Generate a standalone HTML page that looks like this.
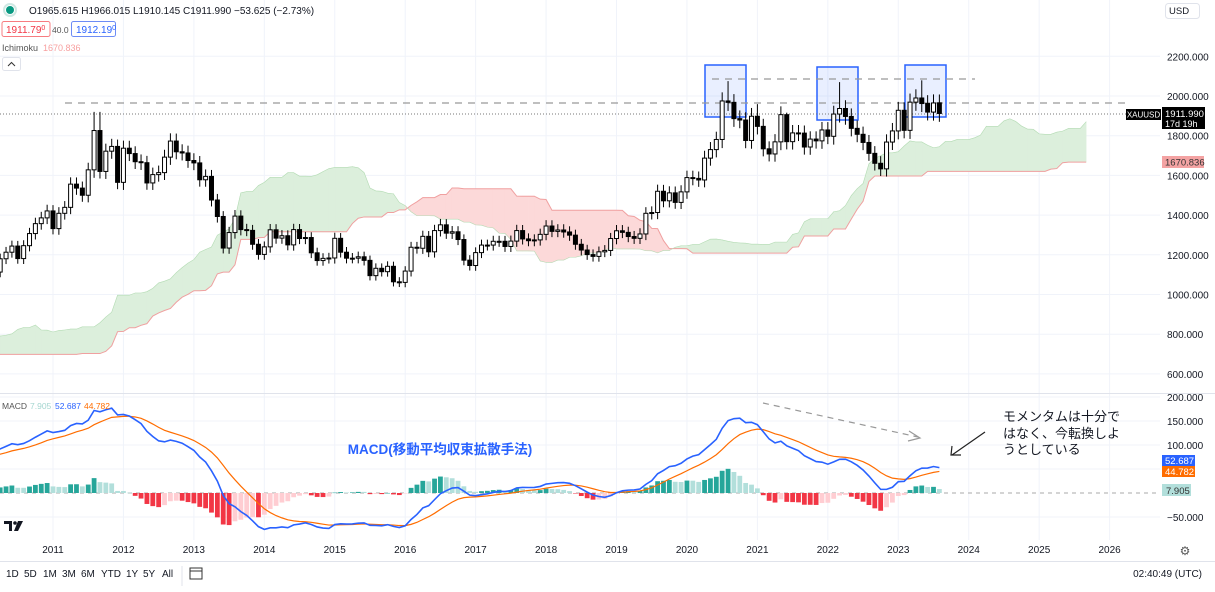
<!DOCTYPE html><html><head><meta charset="utf-8"><style>
html,body{margin:0;padding:0;background:#fff;width:1215px;height:592px;overflow:hidden;font-family:"Liberation Sans","Noto Sans CJK JP",sans-serif;}
svg{display:block}
</style></head><body>
<svg id="s" width="1215" height="592" xmlns="http://www.w3.org/2000/svg" font-family="Liberation Sans, Noto Sans CJK JP, sans-serif"></svg>
<script>
var C=[422,434,428,435,414,436,429,433,473,470,495,513,
568,556,582,654,643,613,633,624,599,604,646,632,
651,665,663,679,659,650,666,672,743,789,783,834,
923,971,916,865,887,930,913,833,871,730,814,869,
928,942,916,883,979,927,954,955,1001,1040,1180,1096,
1081,1116,1113,1180,1213,1244,1181,1246,1307,1357,1386,1421,
1332,1409,1439,1556,1536,1500,1628,1826,1620,1722,1746,1565,
1737,1710,1669,1664,1562,1604,1614,1692,1773,1719,1713,1675,
1663,1578,1595,1476,1393,1234,1312,1395,1327,1323,1253,1202,
1240,1326,1284,1296,1250,1327,1282,1287,1210,1171,1182,1184,
1283,1213,1183,1183,1190,1172,1095,1132,1115,1142,1064,1061,
1118,1238,1233,1293,1215,1322,1351,1309,1316,1277,1173,1146,
1211,1249,1249,1268,1268,1242,1269,1322,1280,1271,1275,1303,
1345,1318,1325,1315,1299,1253,1224,1201,1192,1215,1222,1282,
1321,1313,1292,1283,1305,1409,1413,1520,1472,1512,1464,1517,
1589,1585,1577,1687,1730,1781,1975,1968,1886,1879,1776,1898,
1847,1734,1708,1769,1906,1770,1814,1813,1743,1783,1774,1829,
1797,1909,1937,1897,1837,1807,1766,1711,1661,1633,1768,1824,
1928,1827,1969,1990,1962,1919,1965,1912];
var i2011=72;
function X(i){return 53+(i-i2011)*5.87;}
function PY(p){return 96+(2000-p)*0.1985;}
function MY(v){return 493-v*0.48;}
var n=C.length,O=[],H=[],L=[];
for(var i=0;i<n;i++){var o=i?C[i-1]:C[i];if(i==n-1)o=1965.6;O.push(o);
H.push(Math.max(o,C[i])+C[i]*0.022);L.push(Math.min(o,C[i])-C[i]*0.022);}
function setH(y,m,v){H[(y-2011)*12+m-1+i2011]=v;}
setH(2011,8,1920);setH(2011,9,1920);setH(2020,8,2075);setH(2022,3,2070);setH(2023,5,2079);setH(2021,1,1959);setH(2021,6,1916);
var s='';
for(var y=2011;y<=2026;y++){var x=X((y-2011)*12+i2011);s+='<line x1="'+x+'" y1="0" x2="'+x+'" y2="540" stroke="#f0f3fa"/>';}
[2200,2000,1800,1600,1400,1200,1000,800,600].forEach(function(p){s+='<line x1="0" x2="1160" y1="'+PY(p)+'" y2="'+PY(p)+'" stroke="#f0f3fa"/>';});
[200,150,100,50,-50].forEach(function(v){s+='<line x1="0" x2="1160" y1="'+MY(v)+'" y2="'+MY(v)+'" stroke="#f0f3fa"/>';});
function hh(a,b){var m=-1e9;for(var k=Math.max(0,a);k<=b;k++)m=Math.max(m,H[k]);return m;}
function ll(a,b){var m=1e9;for(var k=Math.max(0,a);k<=b;k++)m=Math.min(m,L[k]);return m;}
var SA={},SB={};
for(var i=0;i<n;i++){var t=(hh(i-8,i)+ll(i-8,i))/2,k=(hh(i-25,i)+ll(i-25,i))/2;SA[i+25]=(t+k)/2;SB[i+25]=(hh(i-51,i)+ll(i-51,i))/2;}
var st=i2011-10,en=n-1+25;
for(var i=st;i<en;i++){var a1=SA[i],a2=SA[i+1],b1=SB[i],b2=SB[i+1];
var col=(a1+a2)>=(b1+b2)?'#dcefdc':'#fcd9d9';
s+='<polygon points="'+X(i)+','+PY(a1)+' '+X(i+1)+','+PY(a2)+' '+X(i+1)+','+PY(b2)+' '+X(i)+','+PY(b1)+'" fill="'+col+'" stroke="'+col+'" stroke-width="0.6"/>';}
var pb='';for(var i=st;i<=en;i++)pb+=(i==st?'M':'L')+X(i)+','+PY(SB[i]);
s+='<path d="'+pb+'" fill="none" stroke="#f0a0a0" stroke-width="1"/>';
var pa='';for(var i=st;i<=en;i++)pa+=(i==st?'M':'L')+X(i)+','+PY(SA[i]);
s+='<path d="'+pa+'" fill="none" stroke="#b5dcb5" stroke-width="0.6"/>';
[[705,65],[817,67],[905,65]].forEach(function(b){s+='<rect x="'+b[0]+'" y="'+b[1]+'" width="41" height="'+(b[0]==817?53:52)+'" fill="rgba(41,98,255,0.1)" stroke="#2962ff" stroke-width="1.5"/>';});
s+='<line x1="65" y1="103" x2="1128" y2="103" stroke="#999" stroke-dasharray="7,6" stroke-width="1.3"/>';
s+='<line x1="712" y1="79" x2="975" y2="79" stroke="#999" stroke-dasharray="7,6" stroke-width="1.3"/>';
s+='<line x1="0" y1="114" x2="1127" y2="114" stroke="#777" stroke-dasharray="1,2"/>';
for(var i=i2011-9;i<n;i++){var x=X(i),o=O[i],c=C[i],up=c>=o;
s+='<line x1="'+x+'" x2="'+x+'" y1="'+PY(H[i])+'" y2="'+PY(L[i])+'" stroke="#000"/>';
var y1=PY(Math.max(o,c)),h=Math.max(1,PY(Math.min(o,c))-y1);
s+='<rect x="'+(x-2)+'" y="'+y1+'" width="4" height="'+h+'" fill="'+(up?'#fff':'#000')+'" stroke="#000" stroke-width="1"/>';}
function ema(arr,p){var k=2/(p+1),r=[],e=arr[0];for(var i=0;i<arr.length;i++){e=i?arr[i]*k+e*(1-k):arr[i];r.push(e);}return r;}
var e12=ema(C,12),e26=ema(C,26),M=[];for(var i=0;i<n;i++)M.push(e12[i]-e26[i]);
var S=ema(M,9);
s+='<line x1="0" y1="493" x2="1160" y2="493" stroke="#aaa" stroke-dasharray="4,4"/>';
for(var i=i2011-9;i<n;i++){var h=(M[i]-S[i])*1.05,hp=(M[i-1]-S[i-1])*1.05,col;
if(h>=0)col=h>=hp?'#26a69a':'#b2dfdb';else col=h<hp?'#f23645':'#ffcdd2';
var y0=493,y1=MY(h);s+='<rect x="'+(X(i)-2.4)+'" y="'+Math.min(y0,y1)+'" width="4.8" height="'+Math.max(0.5,Math.abs(y1-y0))+'" fill="'+col+'"/>';}
var pm='',ps='';for(var i=i2011-10;i<n;i++){pm+=(pm?'L':'M')+X(i)+','+MY(M[i]);ps+=(ps?'L':'M')+X(i)+','+MY(S[i]);}
s+='<path d="'+ps+'" fill="none" stroke="#ff6d00" stroke-width="1.2"/>';
s+='<path d="'+pm+'" fill="none" stroke="#2962ff" stroke-width="1.6"/>';
s+='<line x1="0" x2="1215" y1="393.5" y2="393.5" stroke="#e0e3eb"/>';
s+='<line x1="0" x2="1215" y1="561.5" y2="561.5" stroke="#e0e3eb"/>';
function T(x,y,t,o){o=o||{};return '<text x="'+x+'" y="'+y+'" font-size="'+(o.fs||11)+'" fill="'+(o.c||'#131722')+'"'+(o.a?' text-anchor="'+o.a+'"':'')+(o.w?' font-weight="'+o.w+'"':'')+'>'+t+'</text>';}
[2200,2000,1800,1600,1400,1200,1000,800,600].forEach(function(p){s+=T(1167,PY(p)+4,p+'.000',{fs:10});});
[[200,'200.000'],[150,'150.000'],[100,'100.000'],[-50,'−50.000']].forEach(function(v){s+=T(1167,MY(v[0])+4,v[1],{fs:10});});
for(var y=2011;y<=2026;y++)s+=T(X((y-2011)*12+i2011),553,y,{fs:10,a:'middle'});
s+='<rect x="1126" y="109" width="35" height="11" fill="#000"/>'+T(1143.5,117.5,'XAUUSD',{fs:8,c:'#fff',a:'middle'});
s+='<rect x="1162" y="107" width="43" height="22" fill="#000"/>'+T(1165,117,'1911.990',{fs:9.5,c:'#fff'})+T(1165,127,'17d 19h',{fs:9,c:'#fff'});
s+='<rect x="1162" y="156" width="42" height="12" fill="#f4a3a3"/>'+T(1165,165.5,'1670.836',{fs:9.5,c:'#333'});
s+='<rect x="1162" y="455" width="33" height="11" fill="#2962ff"/>'+T(1165,464,'52.687',{fs:9.5,c:'#fff'});
s+='<rect x="1162" y="466" width="33" height="11" fill="#ff6d00"/>'+T(1165,475,'44.782',{fs:9.5,c:'#fff'});
s+='<rect x="1162" y="484" width="29" height="12" fill="#b2dfdb"/>'+T(1166,494,'7.905',{fs:9.5,c:'#333'});
s+='<rect x="1165.5" y="3.5" width="34" height="15" rx="3" fill="#fff" stroke="#e0e3eb"/>'+T(1169,14,'USD',{fs:9.5});
s+='<circle cx="10" cy="10" r="4" fill="#089981"/><circle cx="10" cy="10" r="6" fill="none" stroke="#cfe8e3" stroke-width="2"/>';
s+=T(29,14,'O1965.615  H1966.015  L1910.145  C1911.990  −53.625 (−2.73%)',{fs:10});
s+='<rect x="2" y="21.5" width="48" height="15" rx="2" fill="#fff" stroke="#f77c80"/>'+T(6,33,'1911.79<tspan font-size="7" dy="-3">0</tspan>',{fs:10,c:'#f23645'});
s+=T(52,33,'40.0',{fs:8.5,c:'#555'});
s+='<rect x="71.5" y="21.5" width="44" height="15" rx="2" fill="#fff" stroke="#6d8cf5"/>'+T(76,33,'1912.19<tspan font-size="7" dy="-3">0</tspan>',{fs:10,c:'#2962ff'});
s+=T(2,51,'Ichimoku',{fs:9,c:'#555'})+T(43,51,'1670.836',{fs:9,c:'#f7a0a0'});
s+='<rect x="2.5" y="57.5" width="18" height="13" rx="2" fill="#fff" stroke="#e0e3eb"/><path d="M8 66 L11.5 62.5 L15 66" fill="none" stroke="#333"/>';
s+=T(2,409,'MACD',{fs:8.5,c:'#555'})+T(30,409,'7.905',{fs:8.5,c:'#a5d6d0'})+T(55,409,'52.687',{fs:8.5,c:'#2962ff'})+T(84,409,'44.782',{fs:8.5,c:'#ff6d00'});
s+=T(440,454,'MACD(移動平均収束拡散手法)',{fs:13.5,c:'#2962ff',a:'middle',w:'bold'});
s+='<line x1="763" y1="403" x2="918" y2="437" stroke="#999" stroke-dasharray="6,5" stroke-width="1.2"/><path d="M909 431 L920 438 L908 441" fill="none" stroke="#999" stroke-width="1.2"/>';
s+='<line x1="985" y1="432" x2="952" y2="455" stroke="#222" stroke-width="1.2"/><path d="M952 446 L951 455 L961 455" fill="none" stroke="#222" stroke-width="1.2"/>';
s+=T(1003,421,'モメンタムは十分で',{fs:13})+T(1003,438,'はなく、今転換しよ',{fs:13})+T(1003,454,'うとしている',{fs:13});
s+='<path d="M4 521 H12 V531 H9 V524 H4 Z" fill="#131722"/><circle cx="15" cy="523" r="1.8" fill="#131722"/><path d="M18 521 H23 L18 531 H14 Z" fill="#131722"/>';
s+=T(1185,555,'⚙',{fs:12,c:'#555',a:'middle'});
var bx=[6,24,43,62,81,101,126,143,162];['1D','5D','1M','3M','6M','YTD','1Y','5Y','All'].forEach(function(t,j){s+=T(bx[j],577,t,{fs:10});});
s+='<line x1="182" y1="566" x2="182" y2="586" stroke="#e0e3eb"/>';
s+='<rect x="190" y="568" width="12" height="11" fill="none" stroke="#333"/><line x1="190" y1="571" x2="202" y2="571" stroke="#333"/>';
s+=T(1202,577,'02:40:49 (UTC)',{fs:10,a:'end'});
document.getElementById('s').innerHTML=s;
</script>
</body></html>
